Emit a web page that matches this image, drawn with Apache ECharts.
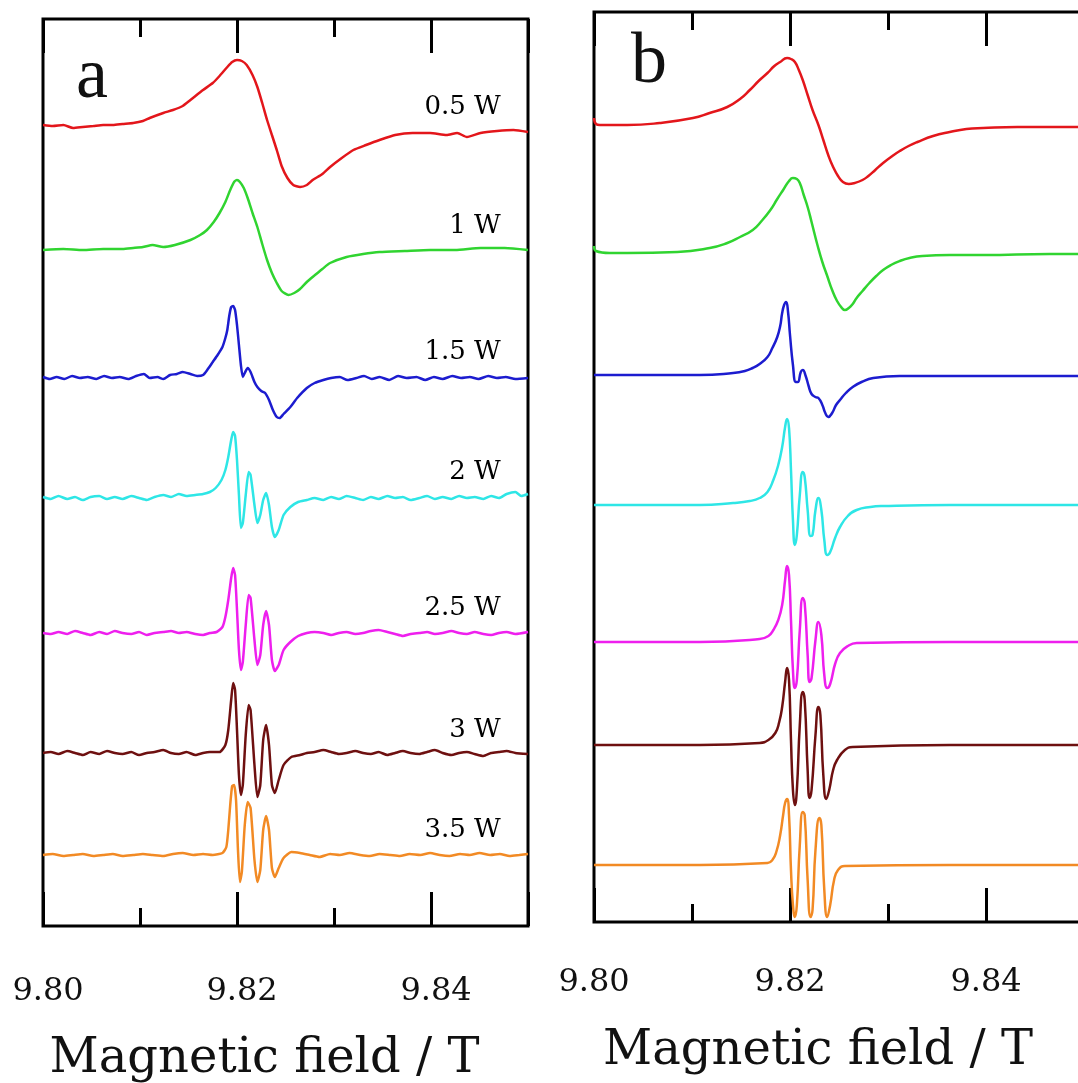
<!DOCTYPE html>
<html><head><meta charset="utf-8">
<script src="https://cdn.jsdelivr.net/npm/echarts@6/dist/echarts.min.js"></script>
<style>html,body{margin:0;padding:0;background:#fff}#c{width:1078px;height:1083px}</style>
</head><body><div id="c"></div>
<script>
// ---- labels / ticks ----
const powers = ['0.5 W', '1 W', '1.5 W', '2 W', '2.5 W', '3 W', '3.5 W'];
const xTickLabels = ['9.80', '9.82', '9.84'];
const axisTitle = 'Magnetic field / T';
const panelLetters = ['a', 'b'];

// ---- panel a: measured spectra [field (T), signal (a.u.)] ----
const a05 = [[9.8000,1],[9.8010,0],[9.8021,1],[9.8031,-2],[9.8041,-1],[9.8052,0],[9.8062,1],[9.8072,1],[9.8082,2],[9.8093,3],[9.8103,5],[9.8110,8],[9.8124,13],[9.8134,16],[9.8144,20],[9.8152,26],[9.8165,36],[9.8175,43],[9.8182,50],[9.8190,59],[9.8195,64],[9.8200,66],[9.8205,65],[9.8210,61],[9.8216,51],[9.8221,39],[9.8226,23],[9.8231,6],[9.8236,-9],[9.8241,-24],[9.8246,-40],[9.8252,-52],[9.8258,-59],[9.8265,-61],[9.8272,-59],[9.8278,-54],[9.8288,-48],[9.8296,-41],[9.8308,-32],[9.8320,-24],[9.8333,-19],[9.8347,-14],[9.8363,-9],[9.8381,-7],[9.8399,-7],[9.8416,-9],[9.8427,-7],[9.8437,-11],[9.8451,-7],[9.8468,-5],[9.8485,-4],[9.8500,-6]];
const a10 = [[9.8000,-1],[9.8021,0],[9.8041,-1],[9.8062,0],[9.8082,0],[9.8093,1],[9.8103,2],[9.8113,4],[9.8124,2],[9.8136,4],[9.8152,9],[9.8162,14],[9.8169,19],[9.8176,27],[9.8182,36],[9.8188,47],[9.8193,59],[9.8197,67],[9.8200,69],[9.8203,67],[9.8207,61],[9.8211,51],[9.8216,36],[9.8221,22],[9.8226,5],[9.8231,-11],[9.8236,-24],[9.8241,-34],[9.8246,-42],[9.8253,-46],[9.8259,-44],[9.8265,-40],[9.8272,-33],[9.8278,-28],[9.8288,-20],[9.8296,-14],[9.8313,-8],[9.8330,-5],[9.8347,-3],[9.8373,-2],[9.8399,-1],[9.8425,-1],[9.8451,1],[9.8476,1],[9.8500,-1]];
const a15 = [[9.8000,1],[9.8007,-1],[9.8014,1],[9.8022,-1],[9.8030,2],[9.8038,0],[9.8046,1],[9.8055,-1],[9.8063,2],[9.8071,0],[9.8079,1],[9.8088,-1],[9.8096,2],[9.8104,4],[9.8110,0],[9.8118,1],[9.8124,-1],[9.8131,3],[9.8138,4],[9.8144,6],[9.8152,4],[9.8159,2],[9.8165,3],[9.8170,9],[9.8175,16],[9.8180,23],[9.8185,31],[9.8188,40],[9.8190,48],[9.8192,62],[9.8194,71],[9.8196,72],[9.8198,68],[9.8200,53],[9.8202,33],[9.8204,13],[9.8206,1],[9.8208,5],[9.8211,10],[9.8214,6],[9.8218,-4],[9.8221,-9],[9.8225,-13],[9.8229,-15],[9.8233,-22],[9.8237,-32],[9.8241,-39],[9.8244,-40],[9.8248,-36],[9.8255,-29],[9.8262,-20],[9.8272,-10],[9.8280,-5],[9.8289,-2],[9.8297,0],[9.8306,1],[9.8314,-2],[9.8323,0],[9.8331,2],[9.8339,-1],[9.8347,1],[9.8357,-2],[9.8366,2],[9.8375,0],[9.8385,1],[9.8394,-2],[9.8403,1],[9.8412,-1],[9.8422,2],[9.8431,0],[9.8440,1],[9.8449,-1],[9.8459,2],[9.8468,0],[9.8477,1],[9.8487,-1],[9.8500,0]];
const a20 = [[9.8000,1],[9.8008,-1],[9.8016,2],[9.8025,-1],[9.8033,1],[9.8041,-2],[9.8049,1],[9.8058,2],[9.8066,-1],[9.8074,1],[9.8082,-1],[9.8091,2],[9.8099,0],[9.8107,-2],[9.8115,1],[9.8124,3],[9.8132,1],[9.8140,4],[9.8148,2],[9.8157,3],[9.8165,4],[9.8172,6],[9.8178,10],[9.8184,18],[9.8188,28],[9.8191,41],[9.8194,58],[9.8196,66],[9.8198,62],[9.8200,38],[9.8202,3],[9.8204,-30],[9.8206,-25],[9.8209,3],[9.8212,26],[9.8214,23],[9.8218,-7],[9.8221,-25],[9.8224,-17],[9.8227,-2],[9.8230,5],[9.8233,-7],[9.8236,-29],[9.8239,-39],[9.8243,-32],[9.8248,-17],[9.8255,-9],[9.8263,-4],[9.8272,-2],[9.8280,0],[9.8289,-2],[9.8297,1],[9.8305,-1],[9.8313,2],[9.8322,0],[9.8330,-2],[9.8338,1],[9.8346,-1],[9.8355,2],[9.8363,0],[9.8371,1],[9.8379,-2],[9.8388,0],[9.8396,2],[9.8404,-1],[9.8412,1],[9.8421,-1],[9.8429,2],[9.8437,0],[9.8445,1],[9.8454,-1],[9.8462,2],[9.8470,0],[9.8478,4],[9.8487,6],[9.8493,2],[9.8500,4]];
const a25 = [[9.8000,0],[9.8008,-1],[9.8016,1],[9.8025,-1],[9.8033,2],[9.8041,0],[9.8049,-2],[9.8058,1],[9.8066,-1],[9.8074,2],[9.8082,0],[9.8091,-1],[9.8099,1],[9.8107,-2],[9.8115,0],[9.8124,1],[9.8132,2],[9.8140,0],[9.8148,1],[9.8157,-1],[9.8165,-2],[9.8172,0],[9.8179,1],[9.8185,6],[9.8188,16],[9.8191,33],[9.8194,55],[9.8196,65],[9.8198,58],[9.8200,23],[9.8202,-17],[9.8204,-37],[9.8206,-29],[9.8209,8],[9.8212,38],[9.8214,35],[9.8218,-7],[9.8221,-32],[9.8224,-22],[9.8227,8],[9.8230,22],[9.8233,8],[9.8236,-27],[9.8239,-38],[9.8243,-32],[9.8248,-17],[9.8255,-9],[9.8263,-3],[9.8272,0],[9.8280,1],[9.8289,0],[9.8297,-2],[9.8305,0],[9.8313,1],[9.8322,-1],[9.8330,0],[9.8338,2],[9.8346,3],[9.8355,1],[9.8363,-1],[9.8371,-3],[9.8379,-1],[9.8388,0],[9.8396,1],[9.8404,-1],[9.8412,0],[9.8421,2],[9.8429,0],[9.8437,-1],[9.8445,1],[9.8454,-1],[9.8462,-2],[9.8470,0],[9.8478,1],[9.8487,-1],[9.8500,1]];
const a30 = [[9.8000,0],[9.8008,1],[9.8016,-1],[9.8025,2],[9.8033,0],[9.8041,-2],[9.8049,1],[9.8058,-1],[9.8066,2],[9.8074,0],[9.8082,-1],[9.8091,1],[9.8099,-2],[9.8107,0],[9.8115,1],[9.8124,3],[9.8132,0],[9.8140,-1],[9.8148,1],[9.8157,-2],[9.8165,0],[9.8172,1],[9.8182,1],[9.8188,8],[9.8191,23],[9.8194,53],[9.8196,70],[9.8198,63],[9.8200,23],[9.8202,-22],[9.8204,-42],[9.8206,-32],[9.8209,18],[9.8212,48],[9.8214,43],[9.8218,-12],[9.8221,-44],[9.8224,-32],[9.8227,13],[9.8230,28],[9.8233,8],[9.8236,-32],[9.8239,-40],[9.8243,-27],[9.8248,-12],[9.8256,-4],[9.8265,-2],[9.8272,0],[9.8280,1],[9.8289,3],[9.8297,1],[9.8305,-1],[9.8313,0],[9.8322,2],[9.8330,0],[9.8338,-1],[9.8346,1],[9.8355,-2],[9.8363,0],[9.8371,2],[9.8379,0],[9.8388,-1],[9.8396,1],[9.8404,3],[9.8412,0],[9.8421,-2],[9.8429,0],[9.8437,1],[9.8445,-1],[9.8454,-3],[9.8462,0],[9.8470,1],[9.8478,2],[9.8487,0],[9.8500,-1]];
const a35 = [[9.8000,0],[9.8010,1],[9.8021,-1],[9.8031,0],[9.8041,1],[9.8052,-1],[9.8062,0],[9.8072,1],[9.8082,-1],[9.8093,0],[9.8103,1],[9.8113,0],[9.8124,-1],[9.8134,1],[9.8144,2],[9.8155,0],[9.8165,1],[9.8175,0],[9.8185,2],[9.8189,8],[9.8191,25],[9.8193,50],[9.8195,69],[9.8197,70],[9.8199,55],[9.8201,5],[9.8203,-27],[9.8205,-17],[9.8208,30],[9.8211,53],[9.8214,47],[9.8218,-5],[9.8221,-27],[9.8224,-15],[9.8227,25],[9.8230,39],[9.8233,25],[9.8236,-13],[9.8239,-22],[9.8243,-13],[9.8248,-3],[9.8256,3],[9.8265,2],[9.8275,0],[9.8285,-2],[9.8296,1],[9.8306,0],[9.8316,2],[9.8327,0],[9.8337,-1],[9.8347,1],[9.8358,0],[9.8368,-1],[9.8378,1],[9.8389,0],[9.8399,2],[9.8409,0],[9.8419,-1],[9.8430,1],[9.8440,0],[9.8450,2],[9.8461,0],[9.8471,1],[9.8481,-1],[9.8491,0],[9.8500,1]];

// ---- panel b: simulated spectra [field (T), signal (a.u.)] ----
const b05 = [[9.8000,7],[9.8002,1],[9.8006,0],[9.8034,0],[9.8067,2],[9.8101,7],[9.8118,12],[9.8136,18],[9.8149,26],[9.8159,35],[9.8169,45],[9.8177,52],[9.8184,59],[9.8190,63],[9.8197,67],[9.8201,66],[9.8205,63],[9.8209,55],[9.8213,45],[9.8218,30],[9.8223,15],[9.8229,0],[9.8234,-15],[9.8239,-30],[9.8244,-42],[9.8249,-51],[9.8254,-57],[9.8260,-59],[9.8266,-58],[9.8274,-55],[9.8280,-51],[9.8287,-45],[9.8295,-38],[9.8303,-32],[9.8312,-26],[9.8321,-21],[9.8330,-17],[9.8346,-11],[9.8363,-7],[9.8380,-4],[9.8397,-3],[9.8432,-2],[9.8465,-2],[9.8500,-2]];
const b10 = [[9.8000,6],[9.8002,1],[9.8016,-1],[9.8034,-1],[9.8085,0],[9.8118,4],[9.8136,9],[9.8149,15],[9.8162,22],[9.8171,31],[9.8180,42],[9.8187,53],[9.8193,62],[9.8199,71],[9.8203,74],[9.8207,73],[9.8210,69],[9.8214,57],[9.8218,45],[9.8222,30],[9.8228,7],[9.8233,-10],[9.8238,-24],[9.8243,-38],[9.8248,-49],[9.8253,-56],[9.8256,-58],[9.8260,-56],[9.8264,-52],[9.8268,-46],[9.8274,-39],[9.8281,-31],[9.8288,-24],[9.8295,-18],[9.8303,-13],[9.8312,-9],[9.8322,-6],[9.8335,-4],[9.8363,-3],[9.8397,-3],[9.8465,-2],[9.8500,-2]];
const b15 = [[9.8000,0],[9.8057,0],[9.8108,0],[9.8142,2],[9.8154,4],[9.8162,7],[9.8169,11],[9.8177,18],[9.8182,27],[9.8187,38],[9.8190,49],[9.8192,62],[9.8194,70],[9.8196,73],[9.8198,63],[9.8200,40],[9.8203,10],[9.8206,-7],[9.8208,-7],[9.8211,3],[9.8213,5],[9.8216,-1],[9.8219,-11],[9.8222,-19],[9.8226,-22],[9.8229,-23],[9.8233,-30],[9.8236,-38],[9.8239,-42],[9.8243,-38],[9.8247,-30],[9.8251,-25],[9.8257,-18],[9.8264,-12],[9.8273,-7],[9.8285,-3],[9.8312,-1],[9.8363,-1],[9.8414,-1],[9.8500,-1]];
const b20 = [[9.8000,0],[9.8108,0],[9.8142,2],[9.8159,4],[9.8169,7],[9.8177,13],[9.8183,25],[9.8188,40],[9.8192,58],[9.8195,78],[9.8197,86],[9.8199,77],[9.8201,35],[9.8203,-15],[9.8205,-40],[9.8207,-30],[9.8210,10],[9.8213,33],[9.8215,28],[9.8218,-5],[9.8221,-31],[9.8223,-30],[9.8226,-5],[9.8229,7],[9.8232,-5],[9.8235,-35],[9.8238,-50],[9.8241,-47],[9.8246,-33],[9.8251,-22],[9.8259,-11],[9.8268,-5],[9.8282,-2],[9.8295,-1],[9.8363,0],[9.8500,0]];
const b25 = [[9.8000,0],[9.8108,0],[9.8169,3],[9.8178,6],[9.8183,12],[9.8188,22],[9.8192,37],[9.8195,62],[9.8197,76],[9.8199,67],[9.8201,22],[9.8203,-28],[9.8205,-46],[9.8207,-38],[9.8210,12],[9.8213,44],[9.8215,39],[9.8218,-13],[9.8220,-40],[9.8222,-36],[9.8226,2],[9.8229,20],[9.8232,7],[9.8235,-33],[9.8238,-46],[9.8241,-42],[9.8246,-22],[9.8251,-11],[9.8259,-4],[9.8268,-1],[9.8363,0],[9.8500,0]];
const b30 = [[9.8000,0],[9.8108,0],[9.8169,2],[9.8178,5],[9.8185,12],[9.8189,23],[9.8192,38],[9.8195,63],[9.8197,77],[9.8199,65],[9.8201,5],[9.8203,-45],[9.8205,-60],[9.8207,-45],[9.8210,20],[9.8213,53],[9.8215,45],[9.8218,-25],[9.8220,-53],[9.8222,-45],[9.8226,10],[9.8229,38],[9.8231,30],[9.8234,-30],[9.8237,-54],[9.8240,-45],[9.8244,-25],[9.8248,-15],[9.8256,-5],[9.8264,-2],[9.8363,0],[9.8500,0]];
const b35 = [[9.8000,0],[9.8108,0],[9.8177,2],[9.8182,5],[9.8186,13],[9.8190,30],[9.8193,50],[9.8195,62],[9.8197,66],[9.8199,50],[9.8201,-5],[9.8203,-40],[9.8205,-52],[9.8207,-40],[9.8210,20],[9.8213,53],[9.8215,50],[9.8218,-15],[9.8221,-52],[9.8223,-45],[9.8226,15],[9.8230,47],[9.8232,40],[9.8235,-25],[9.8238,-52],[9.8241,-40],[9.8245,-15],[9.8249,-5],[9.8256,-1],[9.8363,0],[9.8500,0]];

const seriesA = [a05, a10, a15, a20, a25, a30, a35];
const seriesB = [b05, b10, b15, b20, b25, b30, b35];
const offsetsA = [800, 677, 548, 428, 293, 173, 71];
const offsetsB = [797, 670, 547, 417, 280, 177, 57];
const labelRise = [19, 23, 26, 26, 25, 23, 25];
const colors = ['#e3161b', '#30d430', '#1c1ccf', '#2ee6e6', '#ee1fee', '#6e1010', '#f28a24'];

const chart = echarts.init(document.getElementById('c'), null, {renderer: 'canvas'});
const serif = 'DejaVu Serif';

function xAxisPair(gridIndex, bottomMargin, nameGap, labelPad) {
  const common = {
    type: 'value', gridIndex, min: 9.80, max: 9.85, interval: 0.02,
    axisLine: {show: false},
    axisTick: {show: true, inside: true, length: 34, lineStyle: {color: '#000', width: 3}},
    minorTick: {show: true, splitNumber: 2, length: 18, lineStyle: {color: '#000', width: 3}},
    splitLine: {show: false}, minorSplitLine: {show: false}
  };
  return [
    Object.assign({}, common, {
      position: 'bottom',
      axisLabel: {show: true, margin: bottomMargin, color: '#111', fontFamily: serif, fontSize: 32,
        padding: [0, 0, 0, labelPad], showMaxLabel: false,
        formatter: v => { const s = v.toFixed(2); return xTickLabels.includes(s) ? s : ''; }},
      name: axisTitle, nameLocation: 'middle', nameGap: nameGap,
      nameTextStyle: {fontFamily: serif, fontSize: 48, color: '#111', padding: [0, 42, 0, 0]}
    }),
    Object.assign({}, common, {position: 'top', axisLabel: {show: false}})
  ];
}

const xAxes = [...xAxisPair(0, 50, 110, 10), ...xAxisPair(1, 45, 106, 0)];
const yAxes = [
  {type: 'value', gridIndex: 0, min: 0, max: 907, show: false},
  {type: 'value', gridIndex: 1, min: 0, max: 910, show: false}
];

const series = [];
seriesA.forEach((d, i) => {
  series.push({
    type: 'line', xAxisIndex: 0, yAxisIndex: 0, symbol: 'none', smooth: 0.2,
    lineStyle: {color: colors[i], width: 2.5}, silent: true,
    data: d.map(p => [p[0], p[1] + offsetsA[i]]),
    markPoint: {
      symbol: 'circle', symbolSize: 0, silent: true,
      data: [{coord: [9.8472, offsetsA[i] + labelRise[i]]}],
      label: {show: true, formatter: powers[i], position: 'inside', align: 'right', verticalAlign: 'middle',
        color: '#000', fontFamily: serif, fontSize: 26}
    }
  });
});
seriesB.forEach((d, i) => {
  series.push({
    type: 'line', xAxisIndex: 2, yAxisIndex: 1, symbol: 'none', smooth: 0.5,
    lineStyle: {color: colors[i], width: 2.5}, silent: true,
    data: d.map(p => [p[0], p[1] + offsetsB[i]])
  });
});

chart.setOption({
  animation: false,
  backgroundColor: '#fff',
  grid: [
    {left: 43, top: 19, width: 485, height: 907, outerBoundsMode: 'none', containLabel: false,
     show: true, borderColor: '#000', borderWidth: 3, backgroundColor: 'transparent'},
    {left: 594, top: 12, width: 490, height: 910, outerBoundsMode: 'none', containLabel: false,
     show: true, borderColor: '#000', borderWidth: 3, backgroundColor: 'transparent'}
  ],
  xAxis: xAxes,
  yAxis: yAxes,
  series: series,
  graphic: [
    {type: 'text', left: 76, top: 42, style: {text: panelLetters[0], font: '72px "Liberation Serif"', fill: '#111'}},
    {type: 'text', left: 631, top: 27, style: {text: panelLetters[1], font: '72px "Liberation Serif"', fill: '#111'}}
  ]
});
</script></body></html>
